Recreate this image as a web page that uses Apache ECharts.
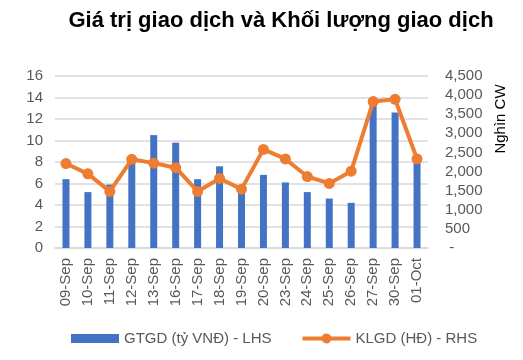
<!DOCTYPE html>
<html>
<head>
<meta charset="utf-8">
<script src="https://cdn.jsdelivr.net/npm/echarts@6/dist/echarts.min.js"></script>
<style>html,body{margin:0;padding:0;background:#fff}#c{width:523px;height:360px}</style>
</head>
<body>
<div id="c"></div>
<script>
const categories = ['09-Sep','10-Sep','11-Sep','12-Sep','13-Sep','16-Sep','17-Sep','18-Sep','19-Sep','20-Sep','23-Sep','24-Sep','25-Sep','26-Sep','27-Sep','30-Sep','01-Oct'];
const gtgd = [6.4, 5.2, 5.9, 7.9, 10.5, 9.8, 6.4, 7.6, 5.6, 6.8, 6.1, 5.2, 4.6, 4.2, 13.2, 12.6, 8.0];
const klgd = [2210, 1940, 1480, 2320, 2220, 2100, 1480, 1820, 1540, 2580, 2330, 1870, 1690, 2010, 3830, 3890, 2330];
const leftTicks = {min: 0, max: 16, interval: 2};
const rightTicks = {min: 0, max: 4500, interval: 500};

const chart = echarts.init(document.getElementById('c'));
const font = 'Liberation Sans, Arial, sans-serif';
chart.setOption({
  animation: false,
  textStyle: {fontFamily: font},
  title: {
    text: 'Giá trị giao dịch và Khối lượng giao dịch',
    left: 276, top: 5, textAlign: 'center',
    textStyle: {fontFamily: font, fontSize: 22, fontWeight: 'bold', color: '#000'}
  },
  legend: {
    left: 66, top: 326, itemGap: 31,
    itemWidth: 48, itemHeight: 10,
    textStyle: {fontFamily: font, fontSize: 15, color: '#595959'},
    data: [
      {name: 'GTGD (tỷ VNĐ) - LHS', icon: 'path://M0,0.5H48V9.5H0Z'},
      {name: 'KLGD (HĐ) - RHS', icon: 'path://M0,3H19.42A5,5 0 0 1 28.58,3H48V7H28.58A5,5 0 0 1 19.42,7H0Z'}
    ]
  },
  grid: {left: 55, right: 95, top: 76, bottom: 112},
  xAxis: {
    type: 'category', data: categories,
    axisTick: {show: false},
    axisLine: {lineStyle: {color: '#d9d9d9', width: 1.5}},
    axisLabel: {rotate: 90, margin: 10, fontSize: 15, color: '#595959', fontFamily: font}
  },
  yAxis: [
    {
      type: 'value', min: leftTicks.min, max: leftTicks.max, interval: leftTicks.interval,
      axisLine: {show: false}, axisTick: {show: false},
      splitLine: {lineStyle: {color: '#d9d9d9', width: 1.5}},
      axisLabel: {fontSize: 15, color: '#595959', margin: 12, fontFamily: font}
    },
    {
      type: 'value', min: rightTicks.min, max: rightTicks.max, interval: rightTicks.interval,
      position: 'right',
      axisLine: {show: false}, axisTick: {show: false}, splitLine: {show: false},
      axisLabel: {fontSize: 15, color: '#595959', margin: 17, fontFamily: font,
        formatter: v => v === 0 ? ' -' : v.toLocaleString('en-US')}
    }
  ],
  graphic: [{
    type: 'text', x: 501, y: 119, rotation: Math.PI / 2,
    style: {text: 'Nghìn CW', font: '15px ' + font, fill: '#000', align: 'center', verticalAlign: 'middle'}
  }],
  series: [
    {
      name: 'GTGD (tỷ VNĐ) - LHS', type: 'bar', data: gtgd, yAxisIndex: 0,
      barWidth: 7, itemStyle: {color: '#4472C4'}
    },
    {
      name: 'KLGD (HĐ) - RHS', type: 'line', data: klgd, yAxisIndex: 1,
      symbol: 'circle', symbolSize: 11,
      lineStyle: {color: '#ED7D31', width: 4},
      itemStyle: {color: '#ED7D31'}
    }
  ]
});
</script>
</body>
</html>
